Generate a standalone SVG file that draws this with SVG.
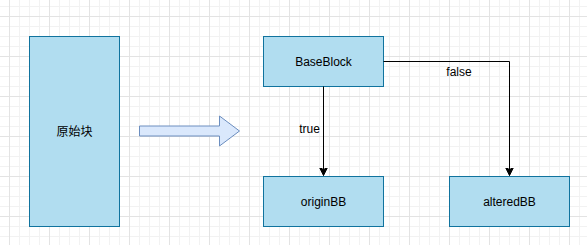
<svg xmlns="http://www.w3.org/2000/svg" width="587" height="245" viewBox="0 0 587 245">
<defs>
<pattern id="minor" width="10" height="10" patternUnits="userSpaceOnUse" x="9" y="6">
<path d="M0 0.5H10M0.5 0V10" fill="none" stroke="#f2f2f2" stroke-width="1"/>
</pattern>
<pattern id="major" width="40" height="40" patternUnits="userSpaceOnUse" x="9" y="16">
<path d="M0 0.5H40M0.5 0V40" fill="none" stroke="#e3e3e3" stroke-width="1"/>
</pattern>
<marker id="arr" markerWidth="10" markerHeight="10" refX="8" refY="5" orient="auto" markerUnits="userSpaceOnUse">
<path d="M0 1 L8 5 L0 9 L2 5 Z" fill="#000" stroke="#000" stroke-width="1"/>
</marker>
</defs>
<style>
.box{fill:#b1ddf0;stroke:#10739e;stroke-width:1}
.lbl{font-family:"Liberation Sans","Noto Sans CJK SC",sans-serif;font-size:12px;fill:#000;text-anchor:middle;dominant-baseline:central}
.edge{fill:none;stroke:#000;stroke-width:1}
</style>
<rect width="587" height="245" fill="#fff"/>
<rect width="587" height="245" fill="url(#minor)"/>
<rect width="587" height="245" fill="url(#major)"/>
<g id="node-origin-block">
<rect class="box" x="29.5" y="36.5" width="90" height="190"/>
<text class="lbl" x="74.5" y="131.5">原始块</text>
</g>
<g id="node-transform-arrow">
<path d="M139.5 126 H219.5 V116 L239.5 131 L219.5 146 V136 H139.5 Z" fill="#dae8fc" stroke="#6c8ebf" stroke-width="1"/>
</g>
<g id="node-baseblock">
<rect class="box" x="263.5" y="36.5" width="120" height="50"/>
<text class="lbl" x="323.5" y="61.5">BaseBlock</text>
</g>
<g id="node-originbb">
<rect class="box" x="263.5" y="176.5" width="120" height="50"/>
<text class="lbl" x="323.5" y="201.5">originBB</text>
</g>
<g id="node-alteredbb">
<rect class="box" x="449.5" y="176.5" width="120" height="50"/>
<text class="lbl" x="509.5" y="201.5">alteredBB</text>
</g>
<g id="connectors">
<path class="edge" d="M323.5 86.5 V175.5" marker-end="url(#arr)"/>
<text class="lbl" x="309.5" y="128.5">true</text>
<path class="edge" d="M383.5 61.5 H509.5 V175.5" marker-end="url(#arr)"/>
<text class="lbl" x="459" y="71.5">false</text>
</g>
</svg>
